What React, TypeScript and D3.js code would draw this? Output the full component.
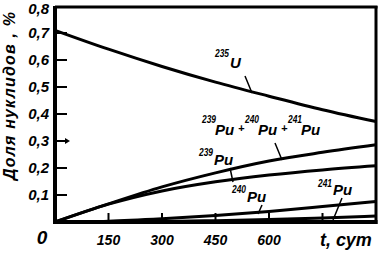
import React from "react";
import * as d3 from "d3";

const days = [0, 150, 300, 450, 600, 750, 900];
const u235 = [0.71, 0.64, 0.576, 0.518, 0.466, 0.416, 0.372];
const puSum = [0, 0.067, 0.13, 0.182, 0.226, 0.258, 0.286];
const pu239 = [0, 0.066, 0.115, 0.149, 0.174, 0.193, 0.208];
const pu240 = [0, 0.003, 0.012, 0.024, 0.039, 0.057, 0.076];
const pu241 = [0, 0.0005, 0.002, 0.005, 0.009, 0.015, 0.022];

const yTicks = [0.1, 0.2, 0.3, 0.4, 0.5, 0.6, 0.7, 0.8];
const yTickLabels = ["0,1", "0,2", "0,3", "0,4", "0,5", "0,6", "0,7", "0,8"];
const xTicks = [150, 300, 450, 600, 750];
const xTickLabels = ["150", "300", "450", "600", "t, сут"];
const yTitle = "Доля нуклидов , %";

const W = 385;
const H = 255;
const FONT = "'Liberation Sans', Arial, sans-serif";

function Sup({ x, y, children }: { x: number; y: number; children: string }) {
  return (
    <text x={x} y={y} fontSize={10} textLength={14} lengthAdjust="spacingAndGlyphs">
      {children}
    </text>
  );
}

function Pu({ x, y }: { x: number; y: number }) {
  return (
    <text x={x} y={y} fontSize={15}>
      Pu
    </text>
  );
}

export default function App() {
  const x = d3.scaleLinear().domain([0, 900]).range([55, 376]);
  const y = d3.scaleLinear().domain([0, 0.8]).range([222, 6]);
  const line = d3
    .line<number>()
    .x((_, i) => x(days[i]))
    .y((d) => y(d))
    .curve(d3.curveMonotoneX);

  const series = [u235, puSum, pu239, pu240, pu241];

  return (
    <svg
      width={W}
      height={H}
      style={{ position: "absolute", left: 0, top: 0, background: "#fff" }}
      fontFamily={FONT}
    >
      <rect x={0} y={0} width={W} height={H} fill="#fff" />
      {/* frame */}
      <line x1={x(0)} x2={x(900) + 1.5} y1={y(0.8) + 1} y2={y(0.8) + 1} stroke="#000" strokeWidth={3} />
      <line x1={x(900)} x2={x(900)} y1={y(0.8)} y2={y(0) + 2} stroke="#000" strokeWidth={3} />
      <line x1={x(0)} x2={x(0)} y1={y(0.8)} y2={y(0) + 2} stroke="#000" strokeWidth={4} />
      <line x1={x(0) - 2} x2={x(900) + 1.5} y1={y(0)} y2={y(0)} stroke="#000" strokeWidth={4} />

      {/* y ticks */}
      {yTicks.slice(0, 7).map((t) => (
        <line key={t} x1={x(0)} x2={x(0) + 12} y1={y(t)} y2={y(t)} stroke="#000" strokeWidth={2} />
      ))}
      <path
        d={`M${x(0) + 10},${y(0.3) - 3} L${x(0) + 15},${y(0.3)} L${x(0) + 10},${y(0.3) + 3} Z`}
        fill="#000"
      />
      {yTicks.map((t, i) => (
        <text
          key={t}
          x={49}
          y={i === 7 ? 14 : y(t)}
          dy={i === 7 ? 0 : "0.36em"}
          textAnchor="end"
          fontSize={15}
          fontStyle="italic"
          fontWeight="bold"
        >
          {yTickLabels[i]}
        </text>
      ))}
      <text x={42} y={244} textAnchor="middle" fontSize={19} fontStyle="italic" fontWeight="bold">
        0
      </text>

      {/* x ticks */}
      {xTicks.map((t) => (
        <line key={t} x1={x(t)} x2={x(t)} y1={y(0)} y2={y(0) - 9} stroke="#000" strokeWidth={2} />
      ))}
      {xTicks.map((t, i) =>
        i < 4 ? (
          <text key={t} x={x(t)} y={245} textAnchor="middle" fontSize={14} fontStyle="italic" fontWeight="bold">
            {xTickLabels[i]}
          </text>
        ) : (
          <text key={t} x={346} y={246} textAnchor="middle" fontSize={18} fontStyle="italic" fontWeight="bold">
            {xTickLabels[i]}
          </text>
        )
      )}

      {/* y title */}
      <text
        transform="translate(15,96) rotate(-90)"
        textAnchor="middle"
        fontSize={16}
        fontStyle="italic"
        fontWeight="bold"
        textLength={168}
        lengthAdjust="spacing"
      >
        {yTitle}
      </text>

      {/* curves */}
      {series.map((s, i) => (
        <path key={i} d={line(s) || ""} fill="none" stroke="#000" strokeWidth={3} />
      ))}

      {/* curve labels */}
      <g fontStyle="italic" fontWeight="bold">
        <Sup x={215} y={57}>235</Sup>
        <text x={230} y={68} fontSize={15}>U</text>
        <line x1={245} y1={76} x2={252} y2={93} stroke="#000" strokeWidth={1.5} />

        <Sup x={202} y={123}>239</Sup>
        <Pu x={215} y={135} />
        <text x={238} y={132} fontSize={11}>+</text>
        <Sup x={245} y={123}>240</Sup>
        <Pu x={258} y={135} />
        <text x={281} y={132} fontSize={11}>+</text>
        <Sup x={288} y={123}>241</Sup>
        <Pu x={301} y={135} />
        <line x1={275} y1={143} x2={282} y2={160} stroke="#000" strokeWidth={1.5} />

        <Sup x={199} y={156}>239</Sup>
        <Pu x={214} y={165} />
        <line x1={230} y1={168} x2={233} y2={182} stroke="#000" strokeWidth={1.5} />

        <Sup x={232} y={193}>240</Sup>
        <Pu x={247} y={202} />
        <line x1={262} y1={205} x2={258} y2={214} stroke="#000" strokeWidth={1.5} />

        <Sup x={318} y={187}>241</Sup>
        <Pu x={333} y={195} />
        <line x1={342} y1={198} x2={333} y2={220} stroke="#000" strokeWidth={1.5} />
      </g>
    </svg>
  );
}
